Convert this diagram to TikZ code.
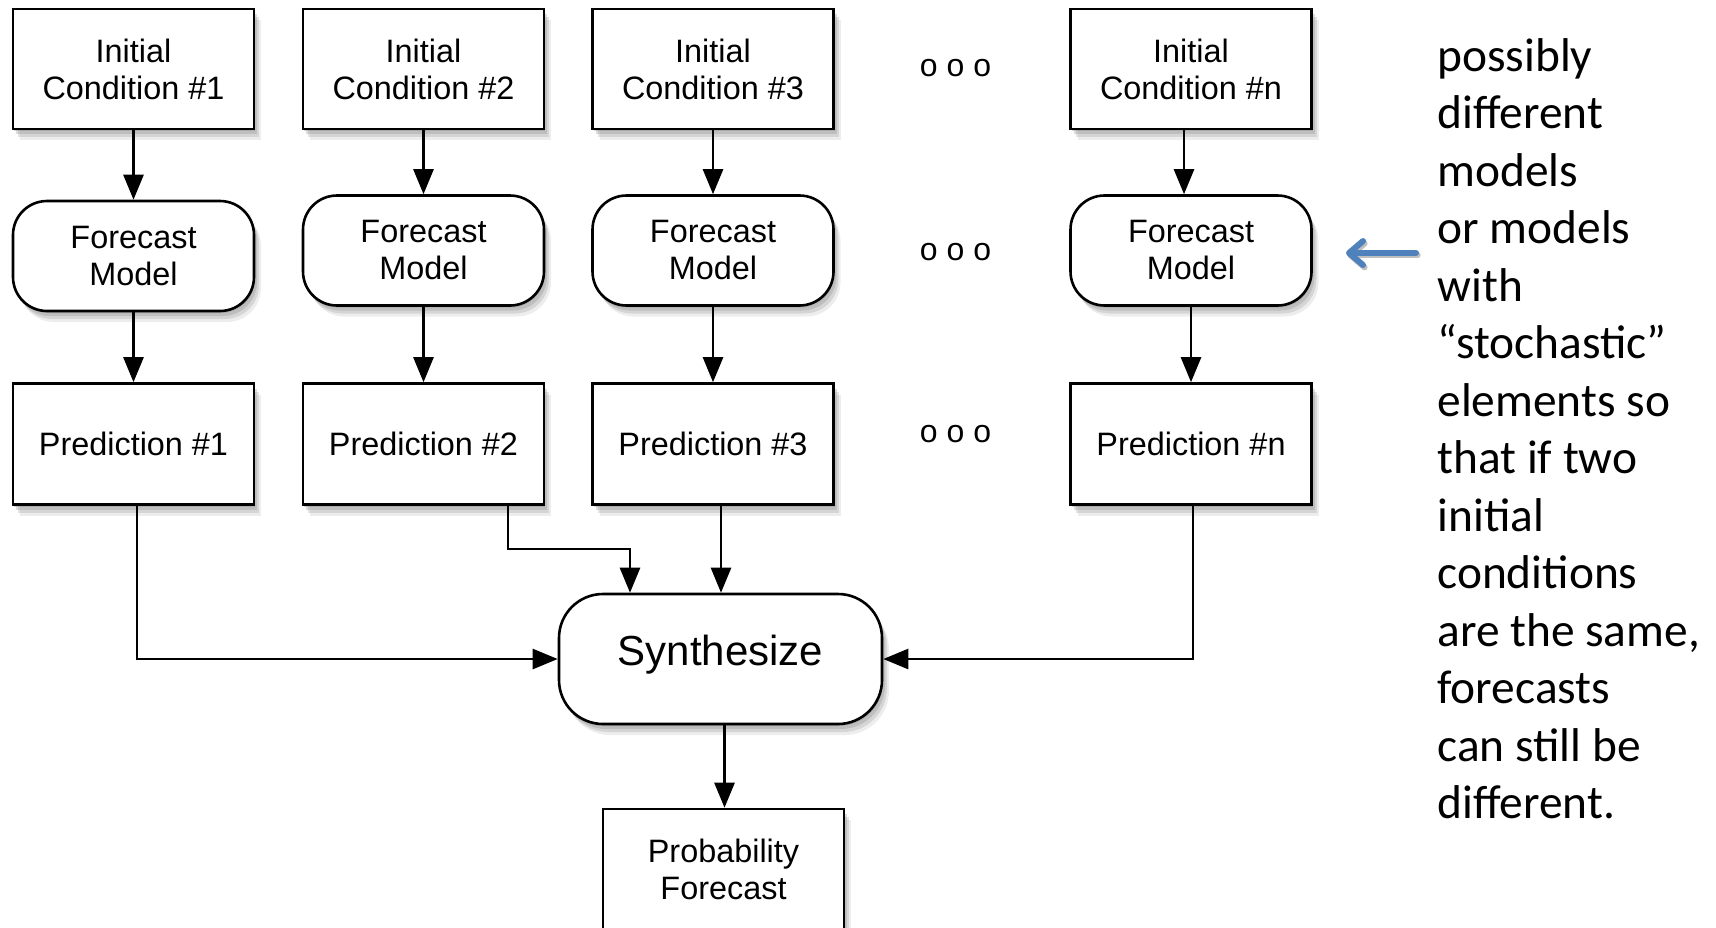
\documentclass[tikz,border=0pt]{standalone}
\usepackage{fontspec}
\setmainfont{Liberation Sans}
\newfontfamily\calib{Carlito}
\usetikzlibrary{arrows.meta,shadows,calc}
\definecolor{officeblue}{RGB}{79,129,189}
\begin{document}
\begin{tikzpicture}[x=0.5pt,y=-0.5pt,
  box/.style={draw=black,line width=1.3pt,fill=white,minimum width=120.5pt,minimum height=60pt,
    align=center,font=\fontsize{16.2}{18.5}\selectfont,inner sep=0pt,
    drop shadow={shadow xshift=0.5pt,shadow yshift=-1pt,opacity=.3},
    drop shadow={shadow xshift=1.5pt,shadow yshift=-2.5pt,opacity=.28},
    drop shadow={shadow xshift=2.5pt,shadow yshift=-4pt,opacity=.22},
    drop shadow={shadow xshift=3.5pt,shadow yshift=-5.5pt,opacity=.14}},
  pill/.style={box,rounded corners=17pt,minimum height=55pt},
  arr/.style={line width=1.3pt,-{Triangle[length=12.5pt,width=10pt]}},
  dotsnode/.style={font=\fontsize{16}{18.5}\selectfont,inner sep=0pt},
  note/.style={font=\calib\fontsize{23.7}{28.7}\selectfont,anchor=base west,inner sep=0pt},
  bluearr/.style={draw=officeblue,line width=3pt,line cap=round,
    -{Straight Barb[length=7pt,width=12pt,round]}}]

\useasboundingbox (0,0) rectangle (1716,927);
\clip (0,0) rectangle (1716,927);

% row 1
\node[box] (ic1) at (133.5,69) {Initial\\Condition \#1};
\node[box] (ic2) at (423.5,69) {Initial\\Condition \#2};
\node[box] (ic3) at (713,69) {Initial\\Condition \#3};
\node[box] (icn) at (1191,69) {Initial\\Condition \#n};
% row 2
\node[pill] (fm1) at (133.5,256) {Forecast\\Model};
\node[pill] (fm2) at (423.5,250.5) {Forecast\\Model};
\node[pill] (fm3) at (713,250.5) {Forecast\\Model};
\node[pill] (fmn) at (1191,250.5) {Forecast\\Model};
% row 3
\node[box,minimum height=60.5pt] (p1) at (133.5,444) {Prediction \#1};
\node[box,minimum height=60.5pt] (p2) at (423.5,444) {Prediction \#2};
\node[box,minimum height=60.5pt] (p3) at (713,444) {Prediction \#3};
\node[box,minimum height=60.5pt] (pn) at (1191,444) {Prediction \#n};
% synth
\node[pill,minimum width=161.5pt,minimum height=65pt,rounded corners=22pt,
  font=\fontsize{21}{25}\selectfont,text depth=9pt] (syn) at (720.5,659) {Synthesize};
\node[box] (pf) at (723.5,869) {Probability\\Forecast};

% dots
\node[dotsnode] (d1) at (955.5,68) {o o o};
\node[dotsnode] (d2) at (955.5,252) {o o o};
\node[dotsnode] (d3) at (955.5,434.5) {o o o};

% arrows
\draw[arr] (ic1.south) -- (fm1.north);
\draw[arr] (ic2.south) -- (fm2.north);
\draw[arr] (ic3.south) -- (fm3.north);
\draw[arr] ([xshift=-3.5pt]icn.south) -- ([xshift=-3.5pt]icn.south |- fmn.north);
\draw[arr] (fm1.south) -- (p1.north);
\draw[arr] (fm2.south) -- (p2.north);
\draw[arr] (fm3.south) -- (p3.north);
\draw[arr] (fmn.south) -- (pn.north);

\draw[arr] ([xshift=1.75pt]p1.south) |- (syn.west);
\coordinate (k2) at (630,549);
\draw[arr] ([xshift=42.25pt]p2.south) |- (k2) -- (k2 |- syn.north);
\draw[arr] ([xshift=4pt]p3.south) -- ([xshift=4pt]p3.south |- syn.north);
\draw[arr] ([xshift=1pt]pn.south) |- (syn.east);
\draw[arr] ([xshift=2pt]syn.south) -- ([xshift=2pt]syn.south |- pf.north);

% blue arrow
\coordinate (ba) at (1416,253);
\coordinate (bb) at (1346,253);
\draw[bluearr,draw=black!25,transform canvas={xshift=0.8pt,yshift=-1.2pt}] (ba) -- (bb);
\draw[bluearr] (ba) -- (bb);

% note text
\foreach \t [count=\i from 0] in {possibly,different,models,or models,with,{“stochastic”},elements so,that if two,initial,conditions,{are the same,},forecasts,can still be,different.}
  \node[note] (t\i) at (1437,71+57.5*\i) {\t};
\end{tikzpicture}
\end{document}
